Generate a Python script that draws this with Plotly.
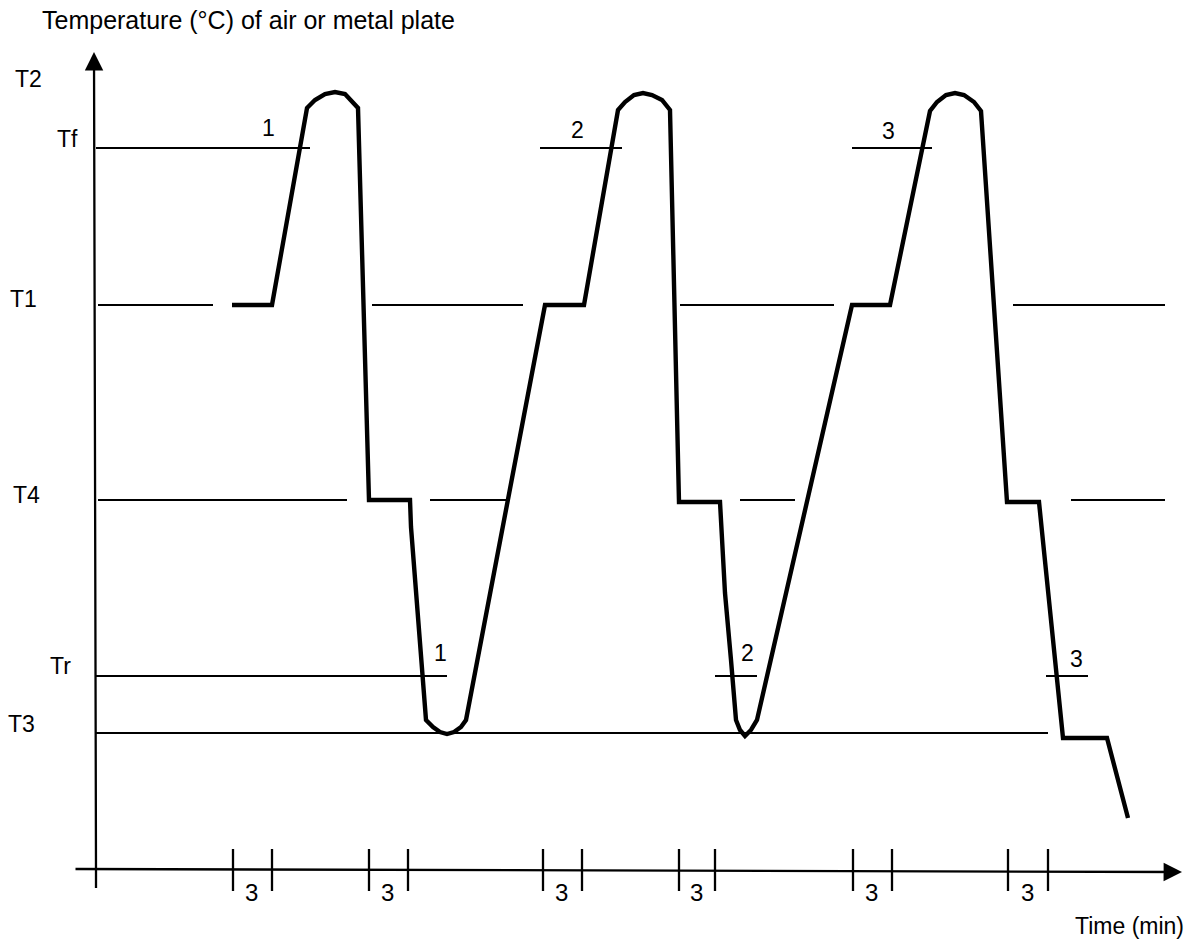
import plotly.graph_objects as go

# ---------------- data (schematic units: time along x, temperature along y) ----------------
# temperature levels drawn as reference lines
LEVEL_NAMES = ["T2", "Tf", "T1", "T4", "Tr", "T3"]
LEVEL_VALUES = [848, 792, 635, 440, 264, 207]

# temperature course of the air / metal plate (thick line)
CURVE_T = [232, 272, 307, 315, 325, 335, 345, 353, 358, 369, 410, 411, 416, 422, 426,
           433, 440, 447, 454, 461, 466, 545, 584, 618, 625, 634, 643, 652, 662, 670,
           679, 720, 725, 731, 736, 740, 745, 751, 757, 852, 890, 930, 937, 946, 955,
           964, 974, 981, 1007, 1039, 1063, 1107, 1128]
CURVE_TEMP = [635, 635, 832, 840, 846, 848, 846, 838, 832, 440, 440, 413, 347, 280, 220,
              213, 208, 206, 208, 213, 220, 635, 635, 830, 838, 845, 847, 845, 840, 830,
              438, 438, 347, 280, 220, 210, 204, 210, 220, 635, 635, 829, 838, 845, 847,
              845, 838, 829, 438, 438, 202, 202, 122]

# thin reference-line segments: level name, start time, end time
SEG_LEVEL = ["Tf", "Tf", "Tf", "T1", "T1", "T1", "T1", "T4", "T4", "T4", "T4", "Tr", "Tr", "Tr", "T3"]
SEG_START = [96, 540, 852, 98, 372, 680, 1013, 98, 430, 740, 1071, 96, 715, 1046, 96]
SEG_END = [310, 622, 932, 213, 523, 834, 1165, 347, 508, 795, 1165, 447, 757, 1088, 1048]

# 3-minute hold intervals marked on the time axis
HOLD_START = [233, 369, 543, 679, 853, 1008]
HOLD_END = [272, 408, 582, 715, 892, 1048]
HOLD_LABEL = ["3", "3", "3", "3", "3", "3"]

# cycle numbers written at the Tf and Tr crossings
CYCLE_LABELS = ["1", "2", "3", "1", "2", "3"]
CYCLE_T = [268, 577, 888, 440, 747, 1076]
CYCLE_TEMP = [812, 810, 809, 287, 287, 281]

# level-label anchors (left edge, vertical centre)
LABEL_X = [13, 55, 8, 11, 48, 6]
LABEL_TEMP = [861, 801, 641, 445, 274, 216]

# ---------------- figure ----------------
FONT = "Liberation Sans, Arial, Helvetica, sans-serif"
level = dict(zip(LEVEL_NAMES, LEVEL_VALUES))
AXIS_TEMP = 70      # time axis drawn at this height
AXIS_T = 95         # temperature axis drawn at this time

fig = go.Figure()

# reference segments
sx, sy = [], []
for name, a, b in zip(SEG_LEVEL, SEG_START, SEG_END):
    sx += [a, b, None]
    sy += [level[name], level[name], None]
fig.add_trace(go.Scatter(x=sx, y=sy, mode="lines", line=dict(color="black", width=2),
                         hoverinfo="skip", showlegend=False))

# hold-interval ticks on the time axis
tx, ty = [], []
for a, b in zip(HOLD_START, HOLD_END):
    for t in (a, b):
        tx += [t, t, None]
        ty += [AXIS_TEMP + 21, AXIS_TEMP - 21, None]
fig.add_trace(go.Scatter(x=tx, y=ty, mode="lines", line=dict(color="black", width=2.3),
                         hoverinfo="skip", showlegend=False))
# small overshoot of the temperature axis below the time axis
fig.add_trace(go.Scatter(x=[AXIS_T + 1, AXIS_T + 1], y=[AXIS_TEMP, AXIS_TEMP - 18], mode="lines",
                         line=dict(color="black", width=2.3), hoverinfo="skip", showlegend=False))

# temperature curve
fig.add_trace(go.Scatter(x=CURVE_T, y=CURVE_TEMP, mode="lines",
                         line=dict(color="black", width=4.4),
                         hoverinfo="skip", showlegend=False))

annotations = []
# axes with arrowheads
annotations.append(dict(x=1182, y=AXIS_TEMP - 2, ax=74, ay=AXIS_TEMP + 1, xref="x", yref="y",
                        axref="x", ayref="y", text="", showarrow=True, arrowhead=2,
                        arrowsize=1.6, arrowwidth=2.3, arrowcolor="black", standoff=0))
annotations.append(dict(x=AXIS_T - 1, y=888, ax=AXIS_T + 1, ay=AXIS_TEMP, xref="x", yref="y",
                        axref="x", ayref="y", text="", showarrow=True, arrowhead=2,
                        arrowsize=1.6, arrowwidth=2.3, arrowcolor="black", standoff=0))

# axis titles
annotations.append(dict(x=40, y=920, xref="x", yref="y", xanchor="left", yanchor="middle",
                        text="Temperature (°C) of air or metal plate", showarrow=False,
                        font=dict(family=FONT, size=25, color="black")))
annotations.append(dict(x=1186, y=14, xref="x", yref="y", xanchor="right", yanchor="middle",
                        text="Time (min)", showarrow=False,
                        font=dict(family=FONT, size=23, color="black")))

# level labels
for name, lx, ly in zip(LEVEL_NAMES, LABEL_X, LABEL_TEMP):
    annotations.append(dict(x=lx, y=ly, xref="x", yref="y", xanchor="left", yanchor="middle",
                            text=name, showarrow=False,
                            font=dict(family=FONT, size=23, color="black")))

# cycle numbers
for lab, cx, cy in zip(CYCLE_LABELS, CYCLE_T, CYCLE_TEMP):
    annotations.append(dict(x=cx, y=cy, xref="x", yref="y", xanchor="center", yanchor="middle",
                            text=lab, showarrow=False,
                            font=dict(family=FONT, size=23, color="black")))

# hold interval labels
for a, b, lab in zip(HOLD_START, HOLD_END, HOLD_LABEL):
    annotations.append(dict(x=(a + b) / 2 - 1, y=AXIS_TEMP - 22, xref="x", yref="y",
                            xanchor="center", yanchor="middle", text=lab, showarrow=False,
                            font=dict(family=FONT, size=24, color="black")))

fig.update_layout(
    width=1200, height=940,
    margin=dict(l=0, r=0, t=0, b=0),
    paper_bgcolor="white", plot_bgcolor="white",
    xaxis=dict(range=[0, 1200], visible=False, fixedrange=True),
    yaxis=dict(range=[0, 940], visible=False, fixedrange=True),
    annotations=annotations,
    showlegend=False,
)

fig.write_html("out.html", config={"displayModeBar": False},
               post_script="document.body.style.margin='0';document.body.style.overflow='hidden';")
